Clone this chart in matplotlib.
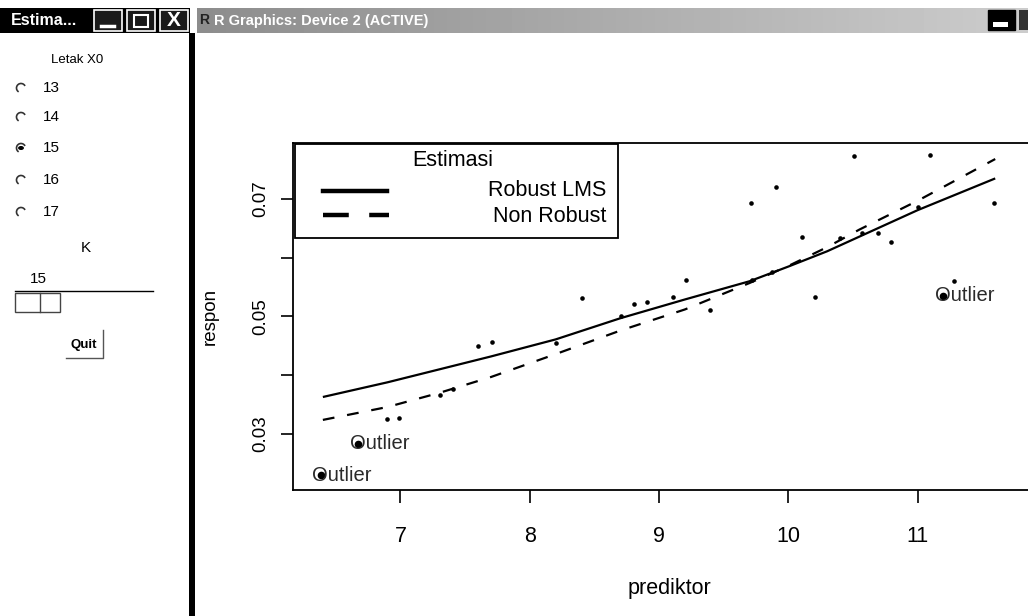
import numpy as np
import matplotlib
matplotlib.use("Agg")
import matplotlib.pyplot as plt
from matplotlib.patches import Rectangle, Arc, Circle
from matplotlib.lines import Line2D

plt.rcParams['font.family'] = ['Liberation Sans', 'DejaVu Sans']

# scatter data (prediktor, respon)
pred = [6.893, 6.991, 7.305, 7.404, 7.602, 7.710, 8.203, 8.404, 8.708, 8.806,
        8.904, 9.110, 9.208, 9.394, 9.716, 9.708, 9.871, 9.902, 10.105, 10.203,
        10.399, 10.510, 10.572, 10.695, 10.794, 11.005, 11.095, 11.283, 11.592]
resp = [0.0326, 0.0328, 0.0366, 0.0377, 0.0450, 0.0456, 0.0455, 0.0531, 0.0500, 0.0521,
        0.0524, 0.0534, 0.0562, 0.0511, 0.0562, 0.0694, 0.0576, 0.0720, 0.0636, 0.0534,
        0.0633, 0.0773, 0.0642, 0.0642, 0.0627, 0.0686, 0.0775, 0.0561, 0.0694]

# points labelled as outliers
out_x = [6.383, 6.674, 11.198]
out_y = [0.0230, 0.0283, 0.0535]

# fitted curves
fit_x = [6.4, 6.9, 7.3, 7.7, 8.2, 8.7, 9.2, 9.7, 10.0, 10.3, 10.55, 11.0, 11.6]
robust_y = [0.0363, 0.0388, 0.0410, 0.0432, 0.0461, 0.0497, 0.0529, 0.0560, 0.0585,
            0.0611, 0.0636, 0.0681, 0.0735]
nonrobust_y = [0.0324, 0.0346, 0.0370, 0.0397, 0.0436, 0.0476, 0.0512, 0.0557, 0.0586,
               0.0618, 0.0648, 0.0697, 0.0768]

xticks = [7, 8, 9, 10, 11]
yticks = [0.03, 0.04, 0.05, 0.06, 0.07]
ytick_labels = ['0.03', '', '0.05', '', '0.07']

radio_labels = ['13', '14', '15', '16', '17']
radio_selected = '15'
slider_value = '15'

W, H = 1028, 616
fig = plt.figure(figsize=(W / 100, H / 100), dpi=100)
fig.patch.set_facecolor('white')


def fx(x):
    return x / W


def fy(y):
    return 1 - y / H


def rect(x0, y0, x1, y1, **kw):
    r = Rectangle((fx(x0), fy(y1)), (x1 - x0) / W, (y1 - y0) / H,
                  transform=fig.transFigure, **kw)
    fig.add_artist(r)
    return r


def fline(xs, ys, **kw):
    fig.add_artist(Line2D([fx(v) for v in xs], [fy(v) for v in ys],
                          transform=fig.transFigure, **kw))


# ---- plot area ----
x_left, x_right = 6.169, 11.985
y_bot, y_top = 0.02047, 0.07953
ax = fig.add_axes([fx(293), fy(490), (1045 - 293) / W, (490 - 143) / H])
ax.set_xlim(x_left, x_right)
ax.set_ylim(y_bot, y_top)

ax.plot(fit_x, robust_y, color='black', lw=1.6, solid_capstyle='butt')
ax.plot(fit_x, nonrobust_y, color='black', lw=1.6, linestyle=(0, (5.3, 5.8)))
ax.plot(pred, resp, 'o', color='black', ms=3.3, mew=0)
ax.plot(out_x, out_y, 'o', color='black', ms=5.5, mew=0)
for xo, yo in zip(out_x, out_y):
    ax.annotate('Outlier', (xo, yo), xytext=(-6, 0), textcoords='offset points',
                ha='left', va='center', fontsize=14.5, color='#2a2a2a')

ax.set_xticks(xticks)
ax.set_yticks(yticks)
ax.set_yticklabels(ytick_labels, rotation=90, va='center', fontsize=13.5)
ax.tick_params(axis='x', direction='out', length=9, width=1.2, pad=17, labelsize=15.5)
ax.tick_params(axis='y', direction='out', length=9, width=1.2, pad=8)
for s in ax.spines.values():
    s.set_linewidth(1.3)
ax.set_xlabel('prediktor', fontsize=15.5, labelpad=22)
ax.set_ylabel('respon', fontsize=13.5, labelpad=24)

# legend box (drawn in pixel space)
rect(295, 144, 618, 238, facecolor='white', edgecolor='black', lw=1.3, zorder=5)
fig.text(fx(453), fy(161), 'Estimasi', ha='center', va='center', fontsize=15.5, zorder=6)
fig.text(fx(606), fy(191), 'Robust LMS', ha='right', va='center', fontsize=15.5, zorder=6)
fig.text(fx(606), fy(216), 'Non Robust', ha='right', va='center', fontsize=15.5, zorder=6)
fline([323, 387], [191, 191], color='black', lw=3.2, zorder=6)
fline([323, 389], [215, 215], color='black', lw=3.2, linestyle=(0, (5.8, 4.6)), zorder=6)

# ---- window chrome ----
bar_top, bar_bot = 8, 33
# R graphics title bar
grad = np.linspace(0.55, 0.80, 256).reshape(1, -1)
tb = fig.add_axes([fx(197), fy(bar_bot), (W - 197) / W, (bar_bot - bar_top) / H])
tb.imshow(grad, cmap='gray', vmin=0, vmax=1, aspect='auto')
tb.set_axis_off()
bar_mid = (bar_top + bar_bot) / 2
fig.text(fx(214), fy(bar_mid), 'R Graphics: Device 2 (ACTIVE)', color='white',
         fontsize=10.5, fontweight='bold', va='center', ha='left')
fig.text(fx(199), fy(bar_mid), 'R', color='#222222', fontsize=10, fontweight='bold',
         va='center')
rect(988, bar_top + 2, 1015, bar_bot - 3, facecolor='black', edgecolor='black')
rect(993, bar_mid + 1, 1008, bar_mid + 6, facecolor='white', edgecolor='none')
rect(1019, bar_top + 2, 1028, bar_bot - 3, facecolor='#333333', edgecolor='none')

# Tk control window title bar
rect(0, bar_top, 190, bar_bot, facecolor='black', edgecolor='none')
fig.text(fx(11), fy(bar_mid), 'Estima...', color='white', fontsize=11.5,
         fontweight='bold', va='center')
for bx in (94, 127, 160):
    rect(bx, bar_top + 2, bx + 28, bar_bot - 2, facecolor='#1a1a1a',
         edgecolor='white', lw=1.2)
fline([101, 114], [bar_bot - 7, bar_bot - 7], color='white', lw=2.5)
rect(134, bar_top + 7, 148, bar_bot - 6, facecolor='none', edgecolor='white', lw=1.5)
fig.text(fx(174), fy(bar_mid + 0.5), 'X', color='white', fontsize=15, fontweight='bold',
         ha='center', va='center')

# window border
rect(189, bar_bot, 195, H, facecolor='black', edgecolor='none')

# control panel contents
fig.text(fx(77), fy(60), 'Letak X0', ha='center', va='center', fontsize=9.5)
radio_y = [88, 117, 148, 180, 212]
for lab, ry in zip(radio_labels, radio_y):
    fig.add_artist(Arc((fx(21), fy(ry)), 9 / W, 9 / H, theta1=40, theta2=250,
                       transform=fig.transFigure, color='#333333', lw=1.2))
    if lab == radio_selected:
        fig.add_artist(Circle((fx(21), fy(ry)), 2.2 / W, transform=fig.transFigure,
                              color='black'))
    fig.text(fx(43), fy(ry), lab, ha='left', va='center', fontsize=11)
fig.text(fx(86), fy(248), 'K', ha='center', va='center', fontsize=11)
fig.text(fx(30), fy(279), slider_value, ha='left', va='center', fontsize=11)
fline([15, 153], [291, 291], color='black', lw=1.0)
rect(15, 293, 60, 312, facecolor='white', edgecolor='#444444', lw=1.0)
fline([40, 40], [293, 312], color='#444444', lw=1.0)
fig.text(fx(84), fy(345), 'Quit', ha='center', va='center', fontsize=9.5,
         fontweight='bold')
fline([103, 103, 66], [330, 358, 358], color='#555555', lw=1.0)

fig.savefig('out.png', dpi=100)
